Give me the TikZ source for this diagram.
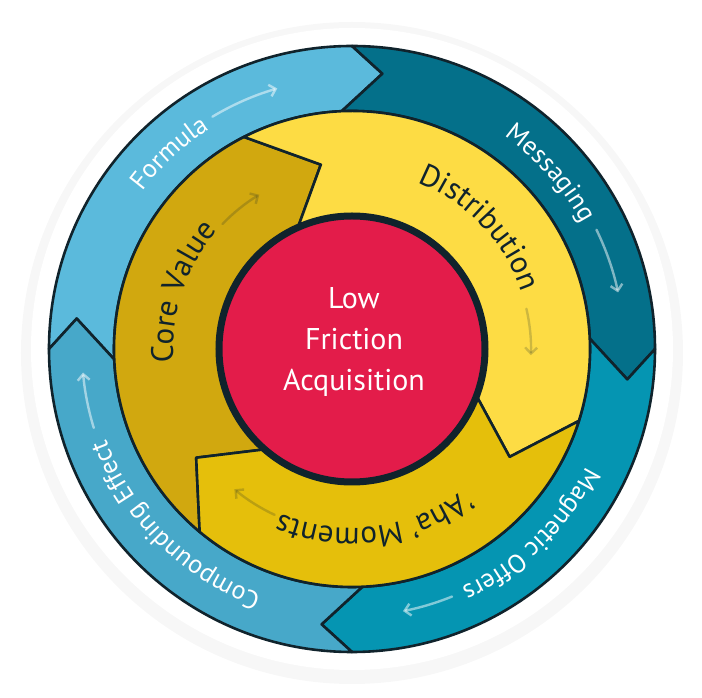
\documentclass[tikz,border=0pt]{standalone}
\usepackage{fontspec}
\setmainfont{PT Sans}
\usetikzlibrary{decorations.text,arrows.meta}
\definecolor{ink}{HTML}{10232C}
\definecolor{formula}{HTML}{5BBADC}
\definecolor{messaging}{HTML}{04708A}
\definecolor{magnetic}{HTML}{0595B2}
\definecolor{compounding}{HTML}{47A8C9}
\definecolor{distribution}{HTML}{FDDC44}
\definecolor{aha}{HTML}{E5BF0B}
\definecolor{corevalue}{HTML}{D1A80F}
\definecolor{lowfriction}{HTML}{E31C4A}
\newcommand{\ringfont}{\fontsize{26}{26}\selectfont}
\newcommand{\hubfont}{\fontsize{31}{31}\selectfont}
\tikzset{
  seg/.style={draw=ink, line width=2.6pt, line join=round},
  flow/.style={line width=2.4pt, line cap=round, -{Straight Barb[length=6pt,width=12pt]}},
  curved/.style 2 args={decorate, decoration={text along path, text align=center, text color=#1, text={#2}}},
}
\begin{document}
\begin{tikzpicture}[x=1pt, y=1pt]
  \useasboundingbox (-352,-349) rectangle (350,349);
  % card behind the wheel
  \fill[black!3] (0,-4) circle (331);
  \fill[white] (0,0) circle (321);
  % outer ring
  \foreach \a/\b/\col in {180/90/formula, 90/0/messaging, 0/-90/magnetic, -90/-180/compounding}
    \filldraw[seg, fill=\col] (\a:303) arc[start angle=\a, end angle=\b, radius=303] -- ({\b-6.3}:277)
      -- ({\b+2.5}:238) arc[start angle=\b+2.5, end angle=\a+2.5, radius=238] -- ({\a-6.3}:277) -- cycle;
  % inner ring
  \filldraw[seg, fill=corevalue] (230.2:238) arc[start angle=230.2, end angle=117, radius=238] -- (99.6:187)
    -- (113.6:134) arc[start angle=113.6, end angle=228.6, radius=134] -- (214.9:190) -- cycle;
  \filldraw[seg, fill=distribution] (117:238) arc[start angle=117, end angle=-17.6, radius=238] -- (-34.4:191)
    -- (-21:134) arc[start angle=-21, end angle=113.6, radius=134] -- (99.6:187) -- cycle;
  \filldraw[seg, fill=aha] (-17.6:238) arc[start angle=-17.6, end angle=-129.8, radius=238] -- (-145.1:190)
    -- (-131.4:134) arc[start angle=-131.4, end angle=-21, radius=134] -- (-34.4:191) -- cycle;
  % hub
  \filldraw[draw=ink, line width=7pt, fill=lowfriction] (0,0) circle (133);
  \node[text=white, align=center, font=\fontsize{30}{41}\selectfont] (hub) at (2,7) {Low\\Friction\\Acquisition};
  % labels
  \path[curved={white}{|\ringfont|Formula}] (178:262) arc[start angle=178, end angle=88, radius=262];
  \path[curved={white}{|\ringfont|Messaging}] (86.5:262) arc[start angle=86.5, end angle=-3.5, radius=262];
  \path[curved={white}{|\ringfont|Magnetic Offers}] (-1:262) arc[start angle=-1, end angle=-91, radius=262];
  \path[curved={white}{|\ringfont|Compounding Effect}] (270:262) arc[start angle=270, end angle=180, radius=262];
  \path[curved={ink}{|\hubfont|Core Value}] (206.5:179) arc[start angle=206.5, end angle=116.5, radius=179];
  \path[curved={ink}{|\hubfont|Distribution}] (88.5:179) arc[start angle=88.5, end angle=-1.5, radius=179];
  \path[curved={ink}{|\hubfont|'Aha' Moments}] (-37.6:179) arc[start angle=-37.6, end angle=-127.6, radius=179];
  % flow arrows
  \draw[flow, white, opacity=0.5] (121:271) arc[start angle=121, end angle=106, radius=271];
  \draw[flow, white, opacity=0.5] (26:272) arc[start angle=26, end angle=12, radius=272];
  \draw[flow, white, opacity=0.5] (-68:267) arc[start angle=-68, end angle=-79, radius=267];
  \draw[flow, white, opacity=0.5] (197:270) arc[start angle=197, end angle=185, radius=270];
  \draw[flow, ink, opacity=0.2] (136:180) arc[start angle=136, end angle=121, radius=180];
  \draw[flow, ink, opacity=0.2] (13:179) arc[start angle=13, end angle=-2, radius=179];
  \draw[flow, ink, opacity=0.2] (-115:183) arc[start angle=-115, end angle=-130, radius=183];
\end{tikzpicture}
\end{document}
